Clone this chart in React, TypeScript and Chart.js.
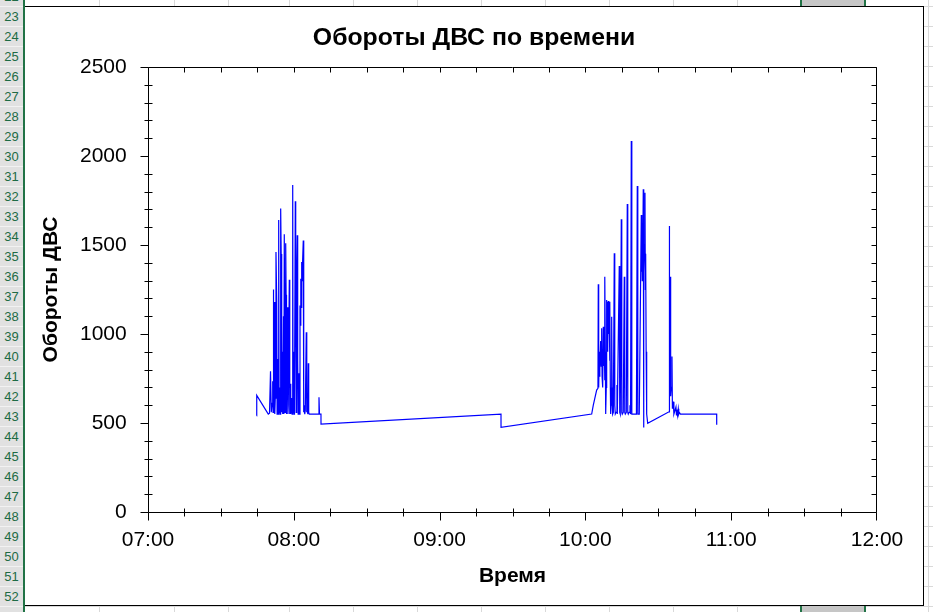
import React, { useEffect, useRef } from "react";
import { Chart, registerables } from "chart.js";

Chart.register(...registerables);

const FONT = "'Liberation Sans', Arial, sans-serif";

const chartTitle = "Обороты ДВС по времени";
const xAxisTitle = "Время";
const yAxisTitle = "Обороты ДВС";

const xTickHours = [7, 8, 9, 10, 11, 12];
const yTickValues = [0, 500, 1000, 1500, 2000, 2500];

// Time stamps (HH:MM:SS) of the engine-speed samples
const times = [
  "07:44:44", "07:44:45", "07:49:30", "07:50:00", "07:50:25", "07:50:44", "07:51:02", "07:51:19",
  "07:51:28", "07:51:34", "07:51:45", "07:51:56", "07:52:10", "07:52:23", "07:52:40", "07:52:58",
  "07:53:08", "07:53:17", "07:53:30", "07:53:47", "07:53:57", "07:54:07", "07:54:20", "07:54:36",
  "07:54:48", "07:55:01", "07:55:13", "07:55:26", "07:55:45", "07:55:55", "07:56:05", "07:56:23",
  "07:56:40", "07:56:50", "07:57:00", "07:57:24", "07:57:35", "07:57:44", "07:58:09", "07:58:20",
  "07:58:31", "07:58:45", "07:59:03", "07:59:18", "07:59:33", "07:59:42", "07:59:52", "08:00:05",
  "08:00:17", "08:00:37", "08:00:47", "08:00:59", "08:01:12", "08:01:26", "08:01:36", "08:01:48",
  "08:02:08", "08:02:20", "08:02:33", "08:02:43", "08:02:53", "08:03:04", "08:03:15", "08:03:25",
  "08:03:35", "08:03:54", "08:04:05", "08:04:17", "08:04:30", "08:04:44", "08:05:08", "08:05:20",
  "08:05:31", "08:05:45", "08:05:58", "08:06:08", "08:06:20", "08:10:10", "08:10:22", "08:10:34",
  "08:11:11", "08:11:12", "09:25:16", "09:25:17",
  "10:02:35", "10:03:15", "10:04:38", "10:05:10", "10:05:18", "10:05:28", "10:05:43", "10:05:52",
  "10:06:00", "10:06:17", "10:06:30", "10:06:42", "10:06:52", "10:07:02", "10:07:12", "10:07:22",
  "10:07:33", "10:07:44", "10:07:54", "10:08:03", "10:08:12", "10:08:21", "10:08:35", "10:08:45",
  "10:08:55", "10:09:05", "10:09:15", "10:09:25", "10:09:36", "10:09:47", "10:09:57", "10:10:07",
  "10:10:16", "10:10:24", "10:10:36", "10:10:49", "10:11:00", "10:11:13", "10:11:30", "10:11:53",
  "10:12:05", "10:12:18", "10:12:40", "10:13:00", "10:13:08", "10:13:56", "10:14:08", "10:14:21",
  "10:14:46", "10:14:58", "10:15:10", "10:15:35", "10:16:00", "10:16:12", "10:16:25", "10:16:50",
  "10:17:14", "10:17:26", "10:17:39", "10:18:00", "10:18:21", "10:18:35", "10:18:53", "10:19:02",
  "10:19:10", "10:21:00", "10:21:21", "10:21:30", "10:21:38", "10:22:10", "10:23:00", "10:23:08",
  "10:23:16", "10:23:24", "10:23:36", "10:23:49", "10:23:55", "10:24:00", "10:24:06", "10:24:18",
  "10:24:31", "10:24:40", "10:24:48", "10:25:00", "10:25:13", "10:25:38", "10:34:25", "10:34:31",
  "10:34:40", "10:34:56", "10:35:05", "10:35:20", "10:35:38", "10:35:48", "10:36:10", "10:36:25",
  "10:37:16", "10:37:28", "10:37:41", "10:37:55", "10:38:13", "10:38:25", "10:38:38", "10:39:07",
  "10:54:01", "10:54:02",
];

// Engine speed (rpm) at each time stamp above
const rpm = [
  540, 655, 550, 555, 790, 560, 610, 735,
  560, 1250, 560, 1180, 550, 640, 1460, 1190,
  550, 860, 550, 1640, 560, 700, 550, 1705,
  1450, 560, 900, 550, 1100, 550, 1560, 560,
  1510, 1220, 550, 1150, 550, 600, 1305, 550,
  720, 550, 640, 550, 1837, 560, 900, 550,
  620, 1745, 1250, 560, 1330, 1555, 850, 550,
  780, 550, 1160, 1050, 1310, 1150, 1405, 1300,
  1390, 1525, 560, 600, 550, 570, 1010, 560,
  590, 550, 835, 560, 550, 550, 645, 550,
  550, 494, 550, 476,
  550, 600, 685, 695, 1280, 700, 900, 760,
  800, 960, 820, 1032, 760, 900, 700, 1041,
  820, 1000, 740, 1322, 900, 550, 700, 1191,
  950, 1180, 900, 1185, 1000, 1150, 850, 1181,
  700, 550, 600, 1097, 700, 550, 560, 1453,
  600, 550, 560, 713, 550, 1382, 560, 550,
  1644, 560, 550, 560, 1322, 560, 550, 560,
  1730, 560, 550, 560, 600, 550, 2084, 560,
  550, 550, 1831, 560, 550, 550, 1668, 1350,
  1550, 1300, 1450, 1813, 474, 1200, 1350, 1500,
  1794, 1250, 1450, 900, 550, 498, 563, 1607,
  1000, 1322, 650, 700, 873, 580, 620, 550,
  590, 545, 575, 545, 580, 550, 560, 550,
  550, 490,
];

const rowNumbers = [22, 23, 24, 25, 26, 27, 28, 29, 30, 31, 32, 33, 34, 35, 36, 37, 38, 39, 40, 41, 42, 43, 44, 45, 46, 47, 48, 49, 50, 51, 52, 53];
const columnLines = [99, 174, 228, 289, 353, 417, 481, 545, 609, 673, 737, 801, 865, 928];

function toHours(t: string): number {
  const [h, m, s] = t.split(":").map(Number);
  return h + m / 60 + s / 3600;
}

function pad2(n: number): string {
  return String(n).padStart(2, "0");
}

const frameTicks = {
  id: "frameTicks",
  afterDatasetsDraw(chart: any) {
    const { ctx, chartArea: a, scales } = chart;
    const xs = scales.x;
    const ys = scales.y;
    const L = Math.round(a.left) + 0.5;
    const R = Math.round(a.right) - 0.5;
    const T = Math.round(a.top) + 0.5;
    const B = Math.round(a.bottom) + 0.5;
    ctx.save();
    ctx.strokeStyle = "#000";
    ctx.lineWidth = 1;
    ctx.beginPath();
    ctx.rect(L, T, R - L, B - T);
    ctx.stroke();
    ctx.beginPath();
    for (let q = 0; q <= 20; q++) {
      const v = 7 + q * 0.25;
      let px = Math.round(xs.getPixelForValue(v)) + 0.5;
      if (px > R) px = R;
      const major = q % 4 === 0;
      if (major) {
        ctx.moveTo(px, B);
        ctx.lineTo(px, B + 8);
      } else {
        ctx.moveTo(px, B - 4);
        ctx.lineTo(px, B + 4);
      }
      ctx.moveTo(px, T);
      ctx.lineTo(px, T + 5);
    }
    for (let v = 0; v <= 2500; v += 100) {
      let py = Math.round(ys.getPixelForValue(v)) + 0.5;
      if (py > B) py = B;
      const major = v % 500 === 0;
      if (major) {
        ctx.moveTo(L - 8, py);
        ctx.lineTo(L, py);
      } else {
        ctx.moveTo(L - 4, py);
        ctx.lineTo(L + 4, py);
      }
      ctx.moveTo(R - 5, py);
      ctx.lineTo(R, py);
    }
    ctx.stroke();
    ctx.restore();
  },
};

function RpmChart() {
  const ref = useRef<HTMLCanvasElement | null>(null);
  useEffect(() => {
    if (!ref.current) return;
    const points = times.map((t, i) => ({ x: toHours(t), y: rpm[i] }));
    const chart = new Chart(ref.current, {
      type: "line",
      data: {
        datasets: [
          {
            data: points,
            borderColor: "#0000ff",
            borderWidth: 1.2,
            pointRadius: 0,
            fill: false,
            tension: 0,
          },
        ],
      },
      options: {
        responsive: false,
        animation: false,
        devicePixelRatio: 1,
        layout: { padding: 0 },
        plugins: {
          legend: { display: false },
          tooltip: { enabled: false },
          title: {
            display: true,
            text: chartTitle,
            color: "#000",
            font: { family: FONT, size: 24.8, weight: "bold", lineHeight: 1.2 },
            padding: { top: 16, bottom: 14.2 },
          },
        },
        scales: {
          x: {
            type: "linear",
            min: 7,
            max: 12,
            afterBuildTicks: (s: any) => {
              s.ticks = xTickHours.map((v) => ({ value: v }));
            },
            ticks: {
              color: "#000",
              font: { family: FONT, size: 21, lineHeight: 1.2 },
              padding: 15.4,
              maxRotation: 0,
              autoSkip: false,
              callback: (v: any) => pad2(Number(v)) + ":00",
            },
            grid: { display: false, drawTicks: false },
            border: { display: false },
            title: {
              display: true,
              text: xAxisTitle,
              color: "#000",
              font: { family: FONT, size: 21, weight: "bold", lineHeight: 1.2 },
              padding: { top: 0, bottom: 16.4 },
            },
            afterFit: (s: any) => {
              s.height = 93;
            },
          },
          y: {
            type: "linear",
            min: 0,
            max: 2500,
            afterBuildTicks: (s: any) => {
              s.ticks = yTickValues.map((v) => ({ value: v }));
            },
            ticks: {
              color: "#000",
              font: { family: FONT, size: 21, lineHeight: 1.2 },
              padding: 21.3,
              callback: (v: any) => String(v),
            },
            grid: { display: false, drawTicks: false },
            border: { display: false },
            title: {
              display: true,
              text: yAxisTitle,
              color: "#000",
              font: { family: FONT, size: 21, weight: "bold", lineHeight: 1.2 },
              padding: { top: 13.4, bottom: 0 },
            },
            afterFit: (s: any) => {
              s.width = 123;
            },
          },
          yRight: {
            type: "linear",
            position: "right",
            min: 0,
            max: 2500,
            display: true,
            ticks: { display: false },
            grid: { display: false, drawTicks: false },
            border: { display: false },
            afterFit: (s: any) => {
              s.width = 46;
            },
          },
        },
      } as any,
      plugins: [frameTicks],
    });
    return () => chart.destroy();
  }, []);
  return (
    <canvas
      ref={ref}
      width={898}
      height={598}
      style={{ display: "block", width: 898, height: 598 }}
    />
  );
}

export default function App() {
  return (
    <div
      style={{
        position: "fixed",
        left: 0,
        top: 0,
        width: 933,
        height: 612,
        background: "#fff",
        overflow: "hidden",
      }}
    >
      {rowNumbers.map((n) => (
        <div
          key={"h" + n}
          style={{
            position: "absolute",
            left: 25,
            top: 26 + (n - 23) * 20,
            width: 908,
            height: 1,
            background: "#d9d9d9",
          }}
        />
      ))}
      {columnLines.map((x) => (
        <div
          key={"c" + x}
          style={{ position: "absolute", left: x, top: 0, width: 1, height: 612, background: "#d9d9d9" }}
        />
      ))}
      <div style={{ position: "absolute", left: 802, top: 0, width: 63, height: 612, background: "#c6c6c6" }} />
      <div style={{ position: "absolute", left: 800, top: 0, width: 2, height: 612, background: "#217346" }} />
      <div style={{ position: "absolute", left: 864, top: 0, width: 2, height: 612, background: "#217346" }} />
      <div
        style={{
          position: "absolute",
          left: 24,
          top: 6,
          width: 900,
          height: 600,
          boxSizing: "border-box",
          border: "1px solid #000",
          background: "#fff",
        }}
      >
        <RpmChart />
      </div>
      <div
        style={{
          position: "absolute",
          left: 0,
          top: 0,
          width: 23,
          height: 612,
          background: "#e1e1e1",
          overflow: "hidden",
        }}
      >
        {rowNumbers.map((n) => (
          <div
            key={"r" + n}
            style={{
              position: "absolute",
              left: 0,
              top: 7 + (n - 23) * 20,
              width: 23,
              height: 19,
              lineHeight: "19px",
              textAlign: "center",
              fontFamily: FONT,
              fontSize: 13,
              color: "#1d6b44",
              borderBottom: "1px solid #f2f2f2",
            }}
          >
            {n}
          </div>
        ))}
      </div>
      <div style={{ position: "absolute", left: 23, top: 0, width: 2, height: 612, background: "#217346" }} />
    </div>
  );
}
